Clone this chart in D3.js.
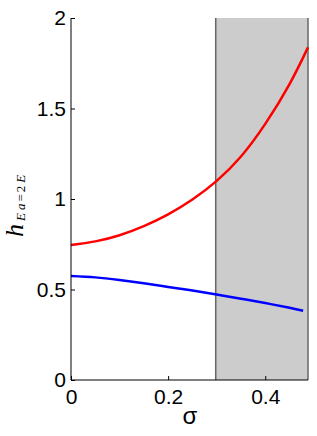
<!DOCTYPE html>
<html>
<head>
<meta charset="utf-8">
<script src="https://cdn.jsdelivr.net/npm/d3@7"></script>
<style>
  body { margin: 0; background: #fff; }
  svg { display: block; }
</style>
</head>
<body>
<script>
  const sigma = [0, 0.05, 0.1, 0.15, 0.2, 0.25, 0.3, 0.35, 0.4, 0.45, 0.488];
  const redVals = [0.746, 0.766, 0.800, 0.850, 0.915, 0.997, 1.100, 1.235, 1.415, 1.635, 1.838];
  const sigmaBlue = [0, 0.05, 0.1, 0.15, 0.2, 0.25, 0.3, 0.35, 0.4, 0.45, 0.478];
  const blueVals = [0.575, 0.567, 0.552, 0.534, 0.514, 0.494, 0.472, 0.449, 0.425, 0.399, 0.383];
  const shadeRange = [0.298, 0.488];
  const xTicks = [0, 0.2, 0.4];
  const yTicks = [0, 0.5, 1, 1.5, 2];

  (function() {
    const w = 317, h = 436;
    const mLeft = 71, mRight = 308, mTop = 18, mBottom = 380;

    const x = d3.scaleLinear().domain([0, 0.488]).range([mLeft, mRight]);
    const y = d3.scaleLinear().domain([0, 2]).range([mBottom, mTop]);

    const svg = d3.select('body').append('svg')
      .attr('width', w).attr('height', h);

    // shaded region
    svg.append('rect')
      .attr('x', x(shadeRange[0]))
      .attr('y', y(2))
      .attr('width', x(shadeRange[1]) - x(shadeRange[0]))
      .attr('height', y(0) - y(2))
      .attr('fill', '#cccccc');
    shadeRange.forEach(s => {
      svg.append('line')
        .attr('x1', x(s)).attr('x2', x(s))
        .attr('y1', y(0)).attr('y2', y(2))
        .attr('stroke', '#666').attr('stroke-width', 1.5);
    });

    const line = d3.line().curve(d3.curveNatural);
    svg.append('path')
      .attr('d', line(sigma.map((s, i) => [x(s), y(redVals[i])])))
      .attr('fill', 'none').attr('stroke', '#ff0000').attr('stroke-width', 2.5);
    svg.append('path')
      .attr('d', line(sigmaBlue.map((s, i) => [x(s), y(blueVals[i])])))
      .attr('fill', 'none').attr('stroke', '#0000ff').attr('stroke-width', 2.5);

    // axes, matlab style ticks inward
    const xAxis = d3.axisBottom(x).tickValues(xTicks).tickSize(-4).tickPadding(9)
      .tickFormat(d => d === 0 ? '0' : d3.format('.1f')(d));
    svg.append('g')
      .attr('transform', 'translate(0,' + mBottom + ')')
      .call(xAxis)
      .call(g => g.select('.domain').attr('d', 'M' + mLeft + ',0H' + mRight))
      .call(g => g.selectAll('text').attr('font-size', 21).attr('dy', '0.72em'));

    const yAxis = d3.axisLeft(y).tickValues(yTicks).tickSize(-4).tickPadding(5)
      .tickFormat(d => String(d));
    svg.append('g')
      .attr('transform', 'translate(' + mLeft + ',0)')
      .call(yAxis)
      .call(g => g.select('.domain').attr('d', 'M0,' + mBottom + 'V' + mTop))
      .call(g => g.selectAll('text').attr('font-size', 21));

    svg.selectAll('.tick line').attr('stroke', '#000');
    svg.selectAll('.domain').attr('stroke', '#000').attr('stroke-width', 1);
    svg.selectAll('.tick text').attr('font-family', 'Liberation Sans, Arial, sans-serif').attr('fill', '#000');

    // axis labels
    svg.append('text')
      .attr('x', 190).attr('y', 424)
      .attr('text-anchor', 'middle')
      .attr('font-family', 'Liberation Sans, Arial, sans-serif')
      .attr('font-size', 24)
      .text('σ');

    const yl = svg.append('text')
      .attr('transform', 'translate(23,237) rotate(-90)')
      .attr('text-anchor', 'start')
      .attr('font-family', 'Liberation Serif, Times New Roman, serif')
      .attr('font-style', 'italic');
    yl.append('tspan').attr('font-size', 26).text('h');
    yl.append('tspan').attr('font-size', 13).attr('dy', 2).attr('dx', 3).text('E');
    yl.append('tspan').attr('font-size', 13).attr('dx', 3).text('a');
    yl.append('tspan').attr('font-size', 13).attr('font-style', 'normal').attr('dx', 2).text('=');
    yl.append('tspan').attr('font-size', 13).attr('font-style', 'normal').attr('dx', 2).text('2');
    yl.append('tspan').attr('font-size', 13).attr('dx', 3).text('E');
  })();
</script>
</body>
</html>
